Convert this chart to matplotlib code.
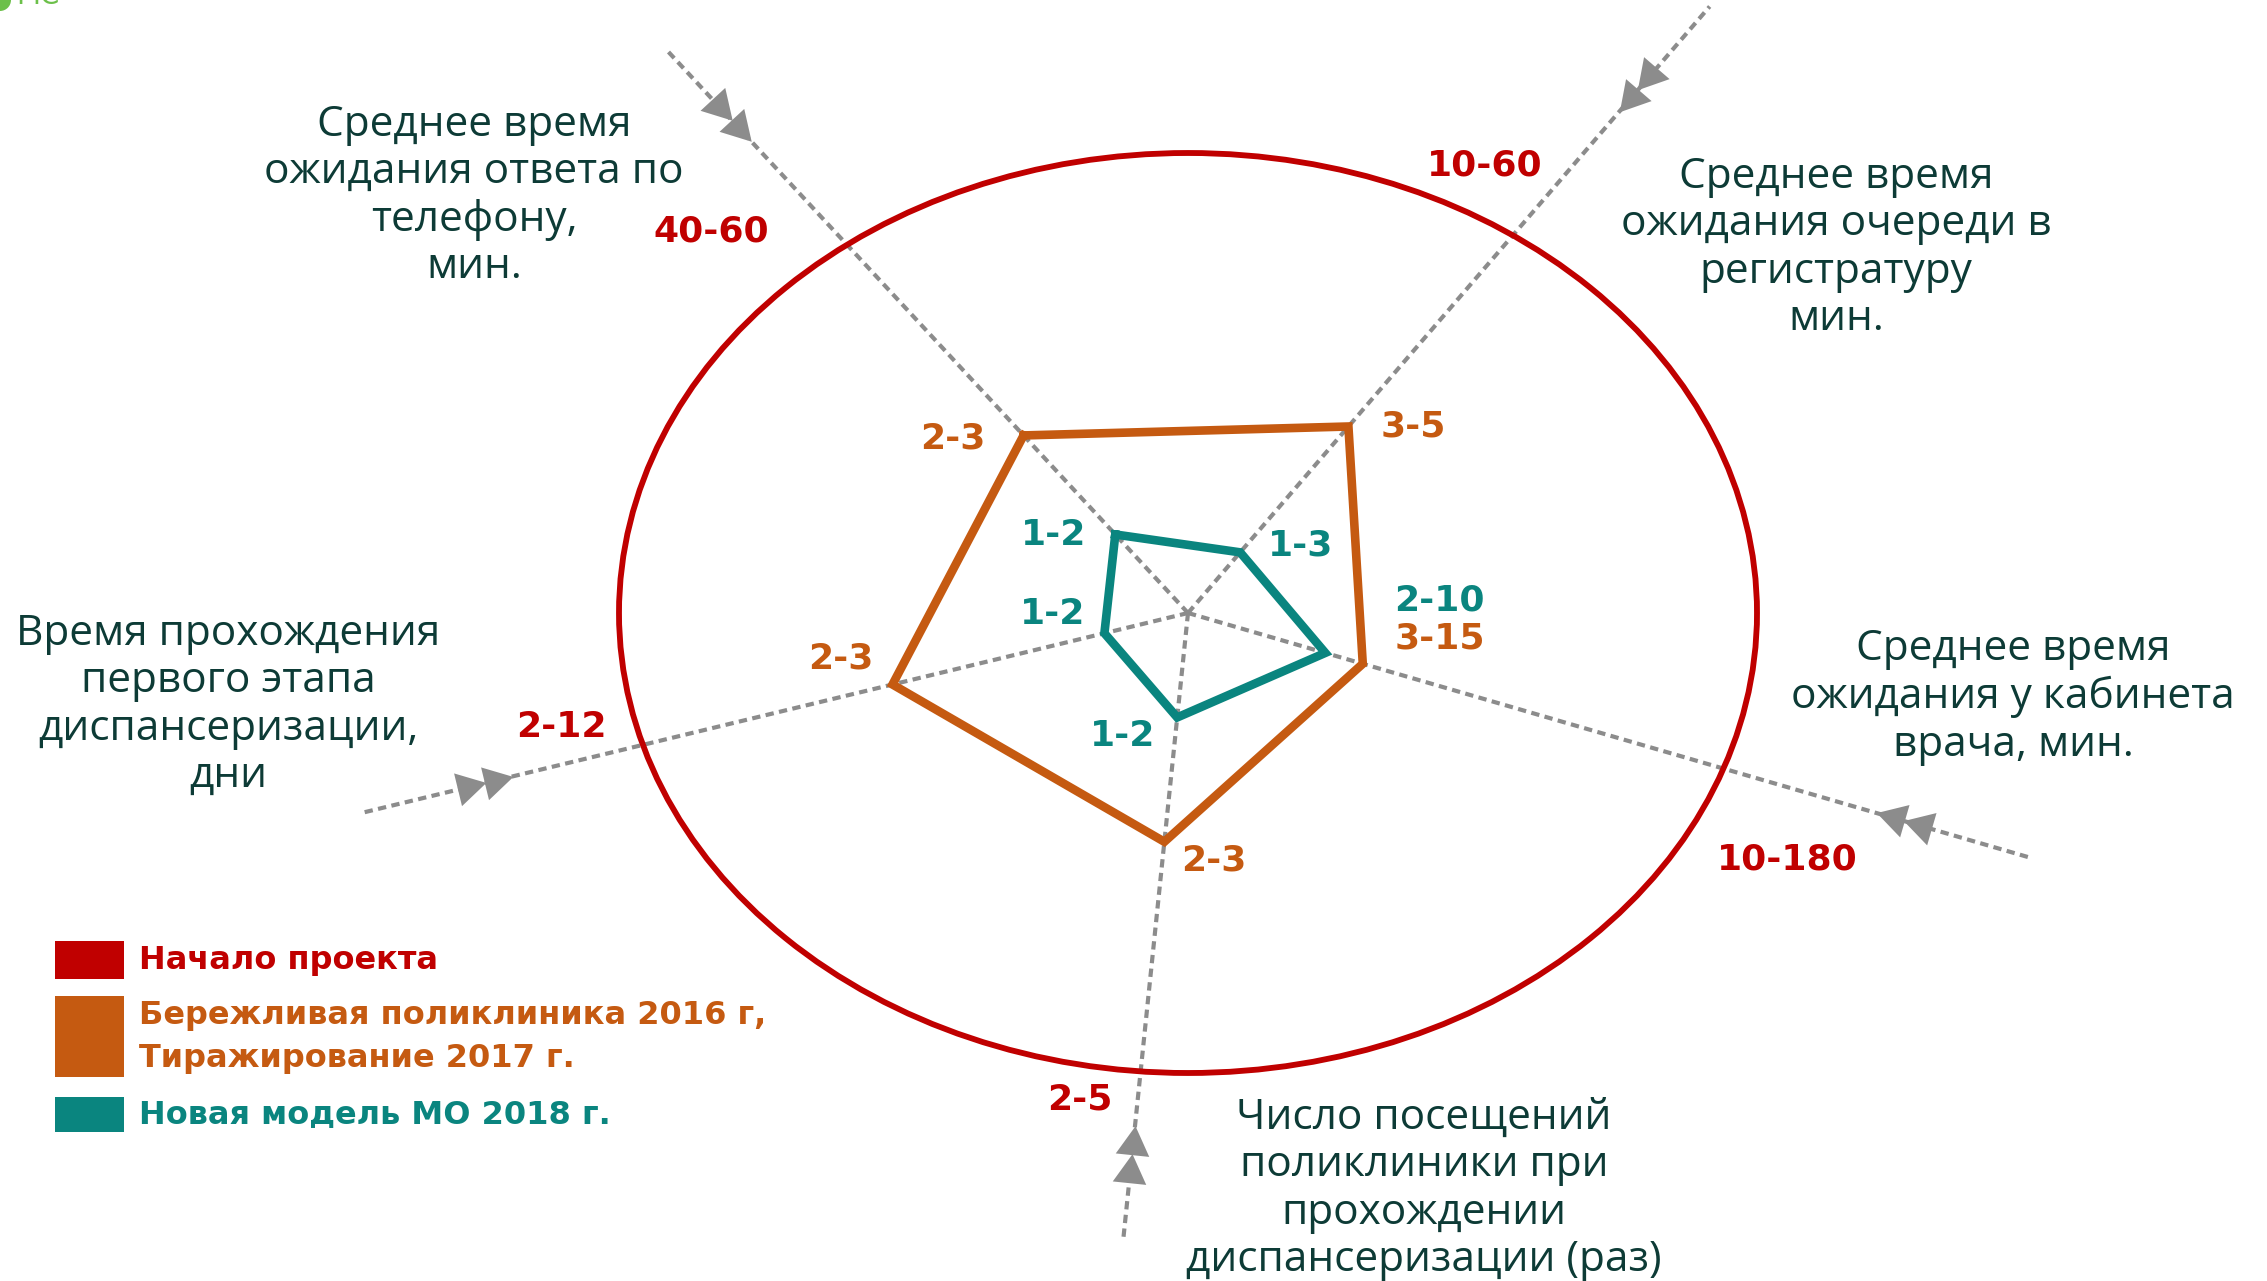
import numpy as np
import matplotlib
matplotlib.use("Agg")
import matplotlib.pyplot as plt
from matplotlib.patches import Ellipse, Rectangle

# diagram axes, clockwise from the top-left one
axis_titles = [
    "Среднее время\nожидания ответа по\nтелефону,\nмин.",
    "Среднее время\nожидания очереди в\nрегистратуру\nмин.",
    "Среднее время\nожидания у кабинета\nврача, мин.",
    "Число посещений\nполиклиники при\nпрохождении\nдиспансеризации (раз)",
    "Время прохождения\nпервого этапа\nдиспансеризации,\nдни",
]
axis_angles = [132.8, 49.3, -16.2, -95.9, 193.6]

start_vals = ["40-60", "10-60", "10-180", "2-5", "2-12"]
lean_vals = ["2-3", "3-5", "3-15", "2-3", "2-3"]
model_vals = ["1-2", "1-3", "2-10", "1-2", "1-2"]

# how far from the centre each series sits on every axis
lean_r = [242, 246, 182, 230, 304]
model_r = [107, 80, 143, 105, 86]

legend_names = ["Начало проекта",
                "Бережливая поликлиника 2016 г,\nТиражирование 2017 г.",
                "Новая модель МО 2018 г."]

RED = "#C00000"
ORANGE = "#C55A11"
TEAL = "#0A857F"
GRAY = "#8C8C8C"
DARK = "#0D3B36"

cx, cy = 1188, 613

fig = plt.figure(figsize=(22.67, 12.81), dpi=100)
ax = fig.add_axes([0, 0, 1, 1])
ax.set_xlim(0, 2267)
ax.set_ylim(1281, 0)
ax.axis("off")


def point(ang, r):
    a = np.radians(ang)
    return cx + r * np.cos(a), cy - r * np.sin(a)


# dashed axes with double arrow heads
axis_len = [766, 800, 878, 628, 850]
arrow_at = [663, 681, 736, 535, 714]
for ang, ln, d in zip(axis_angles, axis_len, arrow_at):
    x1, y1 = point(ang, ln)
    ax.plot([cx, x1], [cy, y1], color=GRAY, lw=3.0, ls=(0, (2.0, 1.3)), zorder=1)
    for k in (0, 28):
        px, py = point(ang, d + k)
        ax.plot(px, py, marker=(3, 0, ang + 90), ms=28, color=GRAY, mec="none", zorder=2)

# start-of-project ring
ax.add_patch(Ellipse((cx, cy), 1138, 920, fill=False, ec=RED, lw=4.2, zorder=3))

# polygons
for rr, col in [(lean_r, ORANGE), (model_r, TEAL)]:
    pts = [point(a, r) for a, r in zip(axis_angles, rr)]
    pts.append(pts[0])
    xs, ys = zip(*pts)
    ax.plot(xs, ys, color=col, lw=6.2, solid_joinstyle="miter", zorder=4)

num_font = dict(family="DejaVu Sans", fontweight="bold", fontsize=26,
                ha="center", va="center", zorder=5)

start_pos = [(711, 231), (1485, 166), (1787, 860), (1080, 1099), (561, 727)]
for txt, (x, y) in zip(start_vals, start_pos):
    ax.text(x, y, txt, color=RED, **num_font)

lean_off = [(-71, 3), (65, 0), (77, -25), (49, 19), (-52, -26)]
for txt, a, r, (dx, dy) in zip(lean_vals, axis_angles, lean_r, lean_off):
    x, y = point(a, r)
    ax.text(x + dx, y + dy, txt, color=ORANGE, **num_font)

model_off = [(-62, 1), (60, -7), (114, -52), (-55, 19), (-52, -19)]
for txt, a, r, (dx, dy) in zip(model_vals, axis_angles, model_r, model_off):
    x, y = point(a, r)
    ax.text(x + dx, y + dy, txt, color=TEAL, **num_font)

title_pos = [(474, 196), (1836, 248), (2013, 697), (1424, 1189), (228, 705)]
for txt, (x, y) in zip(axis_titles, title_pos):
    ax.text(x, y, txt, color=DARK, family="Open Sans", fontsize=30.5,
            ha="center", va="center", multialignment="center", linespacing=1.17)

# legend
leg_cols = [RED, ORANGE, TEAL]
leg_box = [(941, 38), (996, 81), (1097, 35)]
leg_text_y = [960, 1037, 1115]
for name, col, (y0, h), ty in zip(legend_names, leg_cols, leg_box, leg_text_y):
    ax.add_patch(Rectangle((55, y0), 69, h, color=col, lw=0))
    ax.text(139, ty, name, color=col, family="DejaVu Sans", fontweight="bold",
            fontsize=23, ha="left", va="center", linespacing=1.5)

# cropped logo in the corner
ax.add_patch(Ellipse((0, 0), 22, 22, color="#6CC04A", lw=0))
ax.text(16, 10, "МС", color="#6CC04A", family="DejaVu Sans", fontsize=20,
        ha="left", va="bottom", clip_on=True)

fig.savefig("out.png", dpi=100, facecolor="white")
